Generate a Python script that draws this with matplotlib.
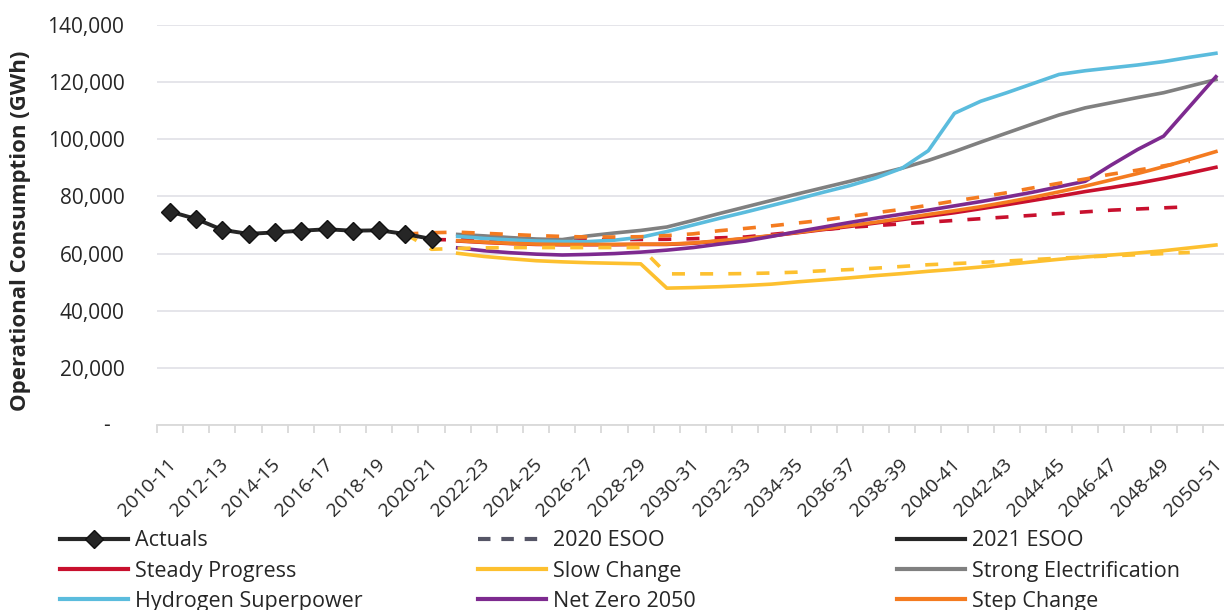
import numpy as np
import matplotlib
matplotlib.use("Agg")
import matplotlib.pyplot as plt
from matplotlib.lines import Line2D
from matplotlib.transforms import ScaledTranslation

plt.rcParams['font.family'] = ['Open Sans', 'DejaVu Sans']

categories = ["2010-11", "2011-12", "2012-13", "2013-14", "2014-15", "2015-16", "2016-17",
              "2017-18", "2018-19", "2019-20", "2020-21", "2021-22", "2022-23", "2023-24",
              "2024-25", "2025-26", "2026-27", "2027-28", "2028-29", "2029-30", "2030-31",
              "2031-32", "2032-33", "2033-34", "2034-35", "2035-36", "2036-37", "2037-38",
              "2038-39", "2039-40", "2040-41", "2041-42", "2042-43", "2043-44", "2044-45",
              "2045-46", "2046-47", "2047-48", "2048-49", "2049-50", "2050-51"]

# Actuals (2010-11 .. 2020-21)
actuals = [74700, 72100, 68300, 66900, 67400, 68000, 68500, 68000, 68150, 66850, 65100]

# 2020 ESOO (dashed), 2019-20 .. 2049-50
esoo20_steady = [66850, 64900, 64800, 64700, 64600, 64600, 64700, 64800, 64900, 64950, 65000,
                 65200, 65500, 65800, 66700, 67600, 68400, 69200, 69800, 70400, 71000, 71600,
                 72200, 72800, 73400, 74000, 74600, 75200, 75600, 76000, 76400]
esoo20_slow = [66850, 61500, 61800, 62000, 62100, 62100, 62100, 62100, 62100, 62100, 52900,
               52900, 52900, 53000, 53200, 53500, 54000, 54400, 54900, 55500, 56100, 56500,
               56900, 57400, 57900, 58400, 58800, 59200, 59600, 60000, 60400]
esoo20_step = [66850, 67300, 67500, 67100, 66700, 66300, 66000, 65800, 65800, 65900, 66300,
               66900, 68000, 68800, 69700, 70700, 71700, 73000, 74300, 75500, 76900, 78400,
               79800, 81300, 83000, 84600, 86100, 87800, 89200, 90700, 92300]

# 2021 ESOO (solid), 2021-22 .. 2050-51
steady_progress = [64400, 63900, 63500, 63200, 63100, 63100, 63100, 63200, 63200, 63600, 64400,
                   65200, 66200, 67300, 68400, 69500, 70700, 71900, 73100, 74300, 75700, 77100,
                   78600, 80100, 81700, 83100, 84600, 86300, 88200, 90200]
slow_change = [60100, 59000, 58200, 57500, 57100, 56800, 56600, 56400, 47900, 48100, 48400,
               48800, 49300, 50100, 50800, 51500, 52300, 53000, 53800, 54500, 55300, 56200,
               57100, 58000, 58800, 59500, 60200, 61000, 62000, 63000]
strong_electrification = [66700, 66200, 65600, 65100, 64900, 66200, 67200, 68100, 69300, 71600,
                          74000, 76300, 78600, 80900, 83100, 85300, 87600, 89900, 92600, 95700,
                          99000, 102200, 105400, 108500, 111000, 112800, 114600, 116300, 118600,
                          120900]
hydrogen_superpower = [66000, 65300, 64800, 64400, 64200, 64200, 64700, 65700, 67700, 70000,
                       72300, 74500, 76800, 79100, 81500, 83800, 86500, 89900, 96000, 109100,
                       113300, 116300, 119500, 122700, 124000, 125000, 126000, 127200, 128700,
                       130100]
net_zero_2050 = [62000, 61000, 60300, 59800, 59500, 59700, 60000, 60500, 61200, 62100, 63300,
                 64400, 66000, 67700, 69300, 70900, 72400, 73800, 75200, 76700, 78200, 79800,
                 81500, 83400, 85300, 91000, 96400, 101100, 111500, 121900]
step_change = [64500, 64000, 63600, 63300, 63200, 63200, 63200, 63300, 63300, 63700, 64500,
               65300, 66300, 67400, 68600, 69800, 71000, 72300, 73700, 75000, 76400, 78000,
               79700, 81600, 83600, 85800, 88000, 90400, 93000, 95700]

yticks = [0, 20000, 40000, 60000, 80000, 100000, 120000, 140000]

C_RED = '#C8102E'
C_YEL = '#FDC02F'
C_GRY = '#808080'
C_CYN = '#5BBCDD'
C_PUR = '#7D2A8F'
C_ORG = '#F47B20'
C_BLK = '#262626'
TXT = '#262626'

W, H = 1224, 610
fig = plt.figure(figsize=(W / 100, H / 100), dpi=100)
ax = fig.add_axes([157 / W, 185 / H, (1229 - 157) / W, 400 / H])

x_all = np.arange(len(categories))
i_act = categories.index("2010-11")
i_20 = categories.index("2019-20")
i_21 = categories.index("2021-22")

def xs(start, vals):
    return x_all[start:start + len(vals)]

LW = 2.6
dash = (3.6, 4.2)

ax.plot(xs(i_act, actuals), actuals, color=C_BLK, lw=LW + 0.2, marker='D', ms=9.5,
        mfc=C_BLK, mec='#111111', zorder=10)

ax.plot(xs(i_20, esoo20_steady), esoo20_steady, color=C_RED, lw=LW, dashes=dash, zorder=2)
ax.plot(xs(i_21, steady_progress), steady_progress, color=C_RED, lw=LW, zorder=3)
ax.plot(xs(i_21, slow_change), slow_change, color=C_YEL, lw=LW, zorder=3)
ax.plot(xs(i_21, strong_electrification), strong_electrification, color=C_GRY, lw=LW, zorder=3)
ax.plot(xs(i_21, hydrogen_superpower), hydrogen_superpower, color=C_CYN, lw=LW, zorder=3)
ax.plot(xs(i_21, step_change), step_change, color=C_ORG, lw=LW, zorder=4)
ax.plot(xs(i_21, net_zero_2050), net_zero_2050, color=C_PUR, lw=LW, zorder=4)
ax.plot(xs(i_20, esoo20_slow), esoo20_slow, color=C_YEL, lw=LW, dashes=dash, zorder=5)
ax.plot(xs(i_20, esoo20_step), esoo20_step, color=C_ORG, lw=LW, dashes=dash, zorder=5)

ax.set_xlim(-0.5, len(categories) - 0.5)
ax.set_ylim(0, 140000)

FS = 15
ax.set_yticks(yticks)
ax.set_yticklabels(['' if v == 0 else f"{v:,}" for v in yticks], color=TXT, fontsize=FS)
ax.tick_params(axis='y', length=0, pad=23.5)
# zero shown as a dash, set in from the other labels (accounting style)
ax.annotate('-', xy=(0, 0), xycoords=('axes fraction', 'data'), xytext=(-34, 0),
            textcoords='offset points', ha='right', va='center', fontsize=FS, color=TXT)

ax.set_xticks(x_all[::2])
ax.set_xticklabels(categories[::2], rotation=45, ha='right', va='center',
                   rotation_mode='anchor', color=TXT, fontsize=14)
ax.set_xticks(np.arange(-0.5, len(categories), 1), minor=True)
ax.tick_params(axis='x', which='major', length=0, pad=26.5)
ax.tick_params(axis='x', which='minor', length=6, color='#D9D9D9', width=1.3)
shift = ScaledTranslation(3 / 100, 0, fig.dpi_scale_trans)
for lab in ax.get_xticklabels():
    lab.set_transform(lab.get_transform() + shift)

ax.grid(axis='y', color='#E3E3E8', lw=1.3)
ax.set_axisbelow(True)
for s in ['top', 'right', 'left']:
    ax.spines[s].set_visible(False)
ax.spines['bottom'].set_color('#D9D9D9')
ax.spines['bottom'].set_linewidth(1.3)

fig.text(21 / W, 1 - 231 / H, 'Operational Consumption (GWh)', rotation=90, ha='center',
         va='center', fontsize=16, fontweight='bold', color=TXT)

# legend in three columns
LFS = 15.5
def h(color, ls='-', marker=None):
    kw = dict(color=color, lw=LW + 0.4)
    if ls == '--':
        kw['dashes'] = (3.0, 2.6)
    if marker:
        kw.update(marker=marker, ms=9.5, mfc=color, mec='#111111')
    return Line2D([], [], **kw)

cols = [
    (60, [h(C_BLK, marker='D'), h(C_RED), h(C_CYN)],
     ['Actuals', 'Steady Progress', 'Hydrogen Superpower']),
    (478, [h('#555566', ls='--'), h(C_YEL), h(C_PUR)],
     ['2020 ESOO', 'Slow Change', 'Net Zero 2050']),
    (897, [h(C_BLK), h(C_GRY), h(C_ORG)],
     ['2021 ESOO', 'Strong Electrification', 'Step Change']),
]
for xp, hs, ls in cols:
    fig.legend(hs, ls, loc='center left', bbox_to_anchor=(xp / W, 1 - 571 / H),
               frameon=False, fontsize=LFS, handlelength=3.15, handletextpad=0.33,
               labelspacing=0.42, borderpad=0, borderaxespad=0, labelcolor=TXT)

fig.savefig('out.png', dpi=100)
